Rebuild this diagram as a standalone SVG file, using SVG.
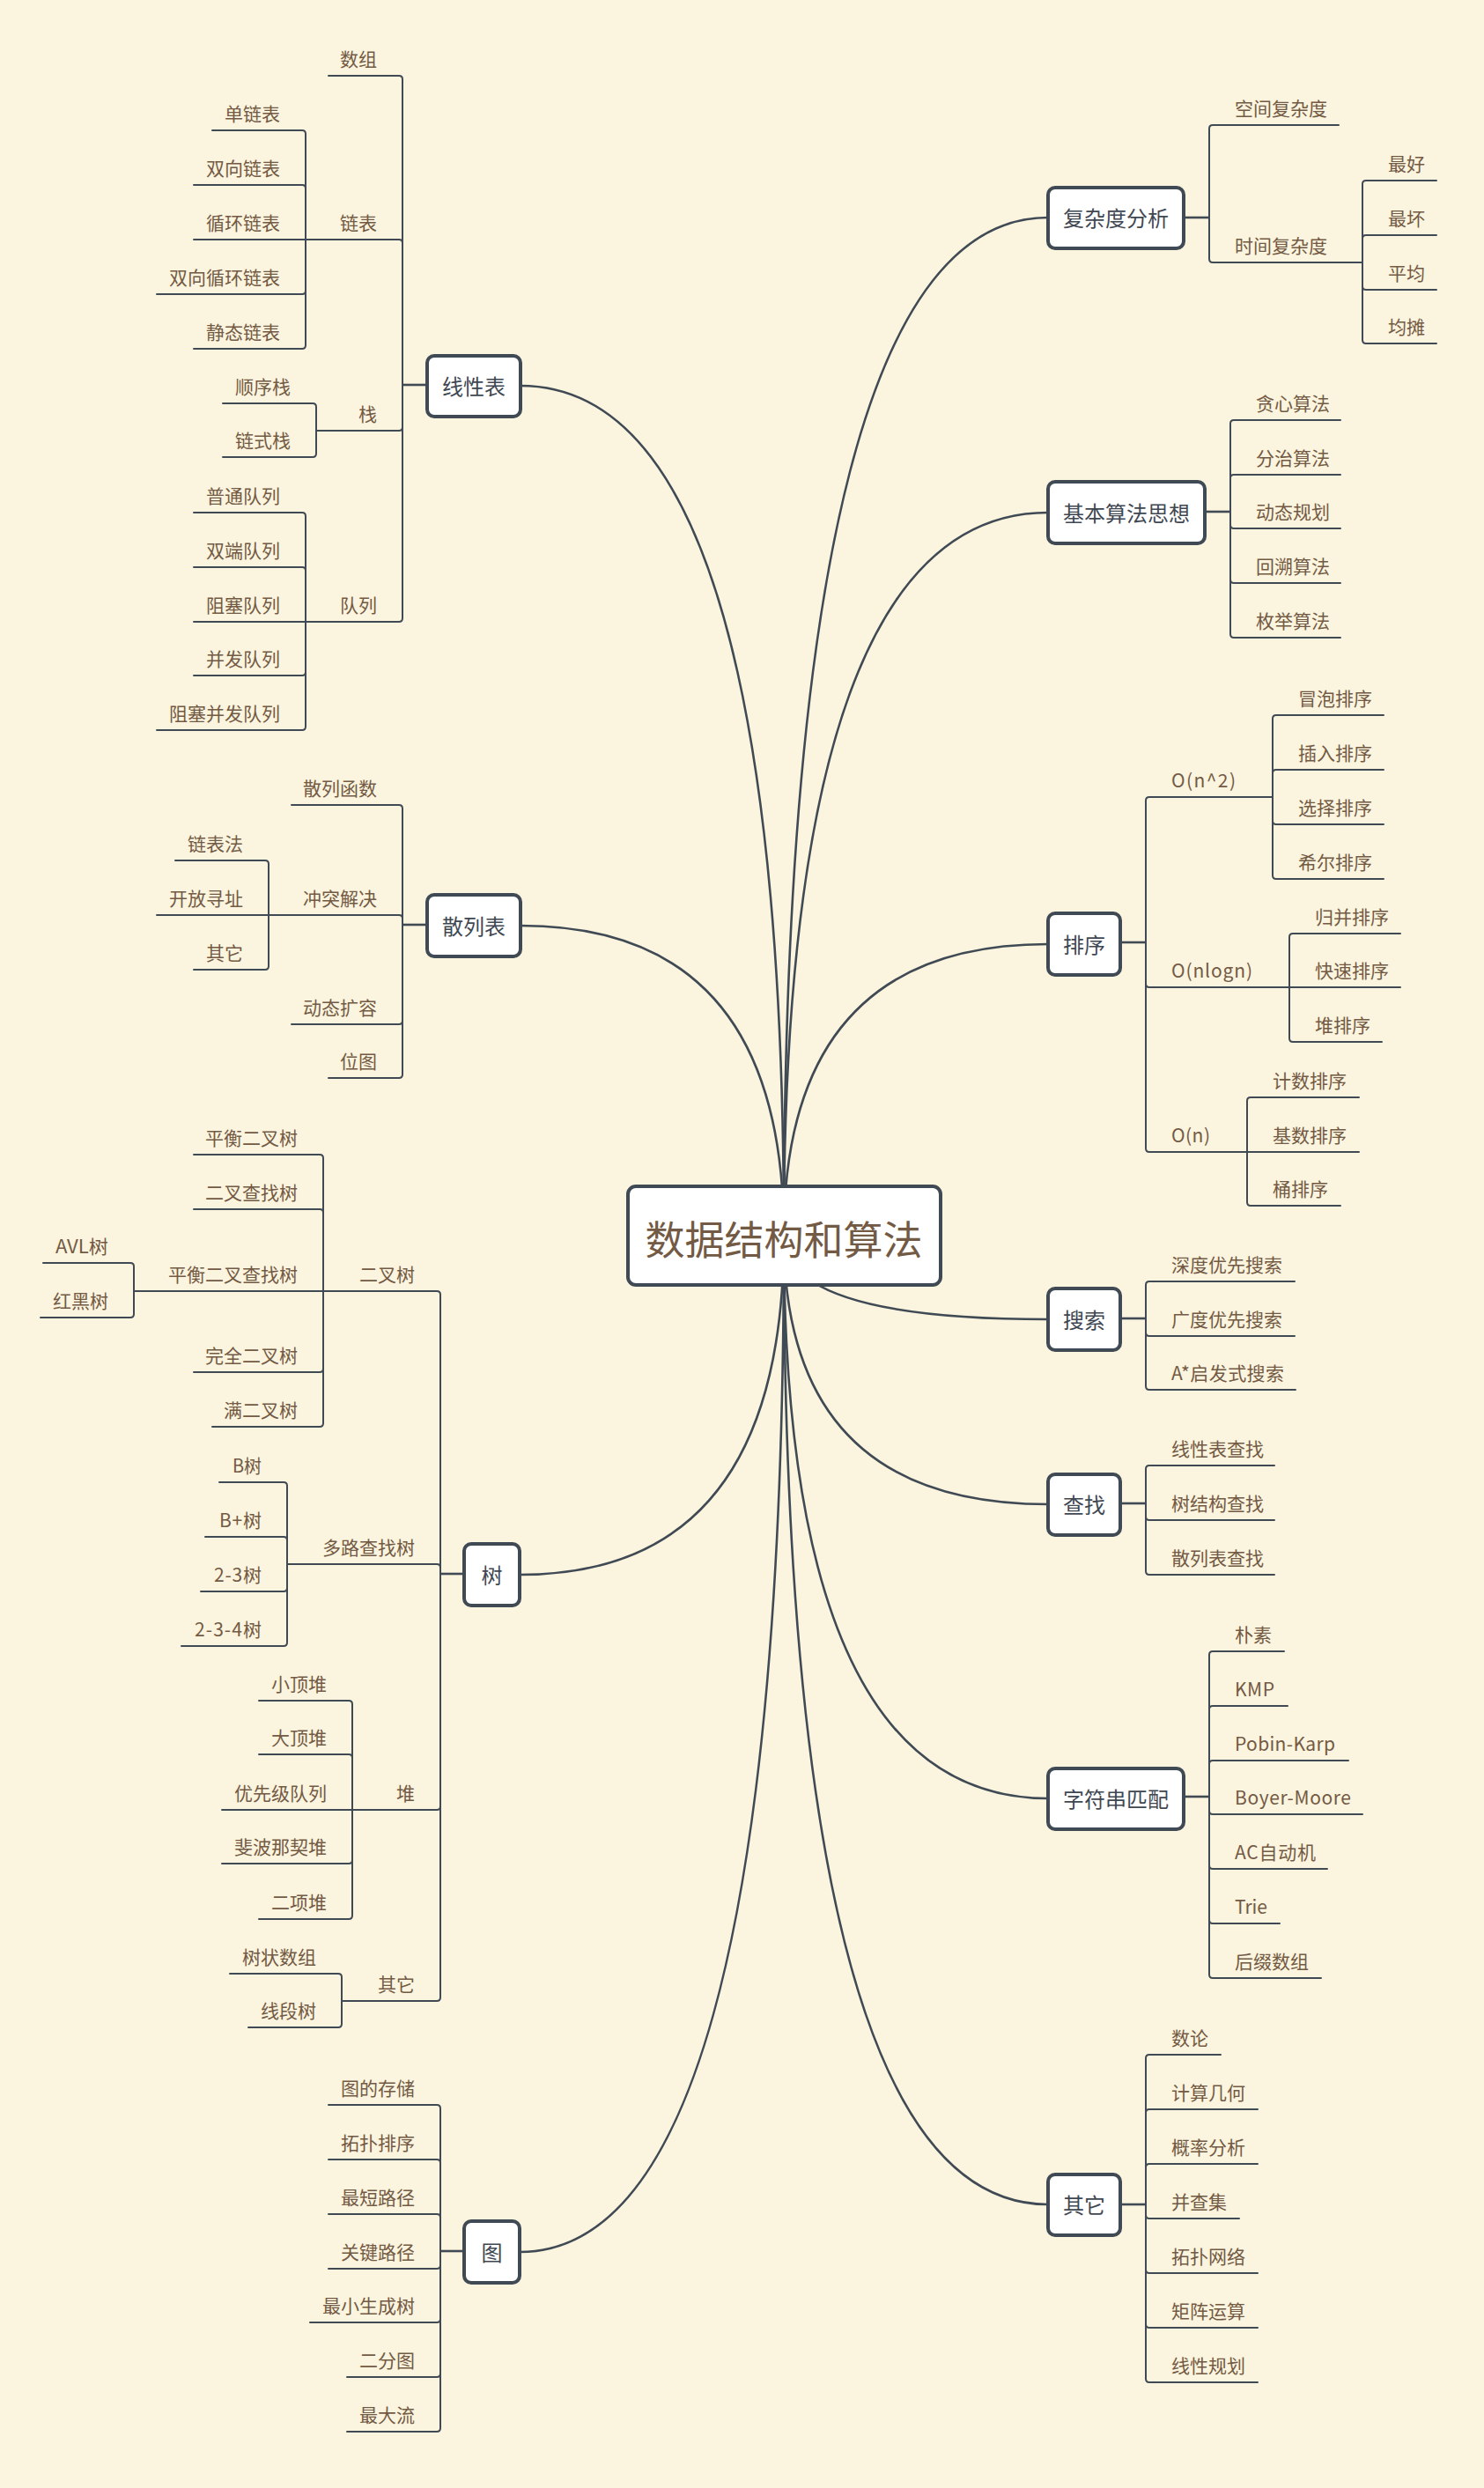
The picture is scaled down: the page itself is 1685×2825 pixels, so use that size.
<svg xmlns="http://www.w3.org/2000/svg" width="1685" height="2825" viewBox="0 0 1685 2825">
<style>
.c{fill:none;stroke:#404a54;stroke-width:2;stroke-linecap:round}
.m{fill:none;stroke:#404a54;stroke-width:2.6}
.t{font-family:"Noto Sans CJK SC","Noto Sans",sans-serif;font-size:21px;fill:#735a44}
.l{text-anchor:end}
.n rect{fill:#ffffff;stroke:#404a54;stroke-width:4}
.n text{font-family:"Noto Sans CJK SC","Noto Sans",sans-serif;font-size:24px;fill:#3f4852;text-anchor:middle}
</style>
<rect width="1685" height="2825" fill="#fbf4de"/>
<g id="connectors">
<g id="main-curves">
<path class="m" d="M890 1403Q890 438 591 438"/>
<path class="m" d="M890 1403Q890 1051 591 1051"/>
<path class="m" d="M890 1403Q890 1788 590 1788"/>
<path class="m" d="M890 1403Q890 2557 590 2557"/>
<path class="m" d="M890 1403Q890 247 1190 247"/>
<path class="m" d="M890 1403Q890 582 1190 582"/>
<path class="m" d="M890 1403Q890 1072 1190 1072"/>
<path class="m" d="M890 1403Q890 1498 1190 1498"/>
<path class="m" d="M890 1403Q890 1708 1190 1708"/>
<path class="m" d="M890 1403Q890 2042 1190 2042"/>
<path class="m" d="M890 1403Q890 2503 1190 2503"/>
</g>
<g id="branches">
<path class="m" d="M485 437H457"/>
<path class="c" d="M457 437V90Q457 86 453 86H373"/>
<path class="c" d="M457 437V276Q457 272 453 272H347"/>
<path class="c" d="M457 437V485Q457 489 453 489H359"/>
<path class="c" d="M457 437V702Q457 706 453 706H347"/>
<path class="c" d="M347 272V152Q347 148 343 148H241"/>
<path class="c" d="M347 272V214Q347 210 343 210H220"/>
<path class="c" d="M347 272H220"/>
<path class="c" d="M347 272V330Q347 334 343 334H178"/>
<path class="c" d="M347 272V392Q347 396 343 396H220"/>
<path class="c" d="M359 489V462Q359 458 355 458H253"/>
<path class="c" d="M359 489V515Q359 519 355 519H253"/>
<path class="c" d="M347 706V586Q347 582 343 582H220"/>
<path class="c" d="M347 706V648Q347 644 343 644H220"/>
<path class="c" d="M347 706H220"/>
<path class="c" d="M347 706V763Q347 767 343 767H220"/>
<path class="c" d="M347 706V825Q347 829 343 829H178"/>

<path class="m" d="M485 1050H457"/>
<path class="c" d="M457 1050V918Q457 914 453 914H331"/>
<path class="c" d="M457 1050V1043Q457 1039 453 1039H305"/>
<path class="c" d="M457 1050V1159Q457 1163 453 1163H331"/>
<path class="c" d="M457 1050V1220Q457 1224 453 1224H373"/>
<path class="c" d="M305 1039V981Q305 977 301 977H199"/>
<path class="c" d="M305 1039H178"/>
<path class="c" d="M305 1039V1097Q305 1101 301 1101H220"/>

<path class="m" d="M527 1787H500"/>
<path class="c" d="M500 1787V1470Q500 1466 496 1466H367"/>
<path class="c" d="M500 1787V1780Q500 1776 496 1776H326"/>
<path class="c" d="M500 1787V2051Q500 2055 496 2055H400"/>
<path class="c" d="M500 1787V2268Q500 2272 496 2272H388"/>
<path class="c" d="M367 1466V1315Q367 1311 363 1311H220"/>
<path class="c" d="M367 1466V1377Q367 1373 363 1373H220"/>
<path class="c" d="M367 1466H152"/>
<path class="c" d="M367 1466V1554Q367 1558 363 1558H220"/>
<path class="c" d="M367 1466V1616Q367 1620 363 1620H241"/>
<path class="c" d="M152 1466V1438Q152 1434 148 1434H49"/>
<path class="c" d="M152 1466V1492Q152 1496 148 1496H46"/>
<path class="c" d="M326 1776V1687Q326 1683 322 1683H249"/>
<path class="c" d="M326 1776V1749Q326 1745 322 1745H233"/>
<path class="c" d="M326 1776V1803Q326 1807 322 1807H228"/>
<path class="c" d="M326 1776V1865Q326 1869 322 1869H206"/>
<path class="c" d="M400 2055V1935Q400 1931 396 1931H294"/>
<path class="c" d="M400 2055V1996Q400 1992 396 1992H294"/>
<path class="c" d="M400 2055H252"/>
<path class="c" d="M400 2055V2112Q400 2116 396 2116H252"/>
<path class="c" d="M400 2055V2175Q400 2179 396 2179H294"/>
<path class="c" d="M388 2272V2245Q388 2241 384 2241H261"/>
<path class="c" d="M388 2272V2298Q388 2302 384 2302H282"/>

<path class="m" d="M527 2556H500"/>
<path class="c" d="M500 2556V2394Q500 2390 496 2390H373"/>
<path class="c" d="M500 2556V2456Q500 2452 496 2452H373"/>
<path class="c" d="M500 2556V2518Q500 2514 496 2514H373"/>
<path class="c" d="M500 2556V2572Q500 2576 496 2576H373"/>
<path class="c" d="M500 2556V2633Q500 2637 496 2637H352"/>
<path class="c" d="M500 2556V2695Q500 2699 496 2699H394"/>
<path class="c" d="M500 2556V2757Q500 2761 496 2761H394"/>

<path class="m" d="M1344 247H1373"/>
<path class="c" d="M1373 247V146Q1373 142 1377 142H1520"/>
<path class="c" d="M1373 247V294Q1373 298 1377 298H1547"/>
<path class="c" d="M1547 298V209Q1547 205 1551 205H1631"/>
<path class="c" d="M1547 298V271Q1547 267 1551 267H1631"/>
<path class="c" d="M1547 298V325Q1547 329 1551 329H1631"/>
<path class="c" d="M1547 298V386Q1547 390 1551 390H1631"/>

<path class="m" d="M1368 581H1397"/>
<path class="c" d="M1397 581V481Q1397 477 1401 477H1522"/>
<path class="c" d="M1397 581V543Q1397 539 1401 539H1522"/>
<path class="c" d="M1397 581V596Q1397 600 1401 600H1522"/>
<path class="c" d="M1397 581V658Q1397 662 1401 662H1522"/>
<path class="c" d="M1397 581V720Q1397 724 1401 724H1522"/>

<path class="m" d="M1272 1070H1301"/>
<path class="c" d="M1301 1070V909Q1301 905 1305 905H1445"/>
<path class="c" d="M1301 1070V1117Q1301 1121 1305 1121H1464"/>
<path class="c" d="M1301 1070V1304Q1301 1308 1305 1308H1416"/>
<path class="c" d="M1445 905V816Q1445 812 1449 812H1571"/>
<path class="c" d="M1445 905V878Q1445 874 1449 874H1571"/>
<path class="c" d="M1445 905V932Q1445 936 1449 936H1571"/>
<path class="c" d="M1445 905V994Q1445 998 1449 998H1571"/>
<path class="c" d="M1464 1121V1064Q1464 1060 1468 1060H1590"/>
<path class="c" d="M1464 1121H1590"/>
<path class="c" d="M1464 1121V1179Q1464 1183 1468 1183H1569"/>
<path class="c" d="M1416 1308V1250Q1416 1246 1420 1246H1543"/>
<path class="c" d="M1416 1308H1543"/>
<path class="c" d="M1416 1308V1365Q1416 1369 1420 1369H1522"/>

<path class="m" d="M1272 1497H1301"/>
<path class="c" d="M1301 1497V1459Q1301 1455 1305 1455H1470"/>
<path class="c" d="M1301 1497V1513Q1301 1517 1305 1517H1470"/>
<path class="c" d="M1301 1497V1574Q1301 1578 1305 1578H1471"/>

<path class="m" d="M1272 1707H1301"/>
<path class="c" d="M1301 1707V1668Q1301 1664 1305 1664H1447"/>
<path class="c" d="M1301 1707V1722Q1301 1726 1305 1726H1447"/>
<path class="c" d="M1301 1707V1784Q1301 1788 1305 1788H1447"/>

<path class="m" d="M1344 2040H1373"/>
<path class="c" d="M1373 2040V1879Q1373 1875 1377 1875H1458"/>
<path class="c" d="M1373 2040V1941Q1373 1937 1377 1937H1462"/>
<path class="c" d="M1373 2040V2003Q1373 1999 1377 1999H1531"/>
<path class="c" d="M1373 2040V2056Q1373 2060 1377 2060H1547"/>
<path class="c" d="M1373 2040V2118Q1373 2122 1377 2122H1507"/>
<path class="c" d="M1373 2040V2180Q1373 2184 1377 2184H1453"/>
<path class="c" d="M1373 2040V2242Q1373 2246 1377 2246H1500"/>

<path class="m" d="M1272 2503H1301"/>
<path class="c" d="M1301 2503V2337Q1301 2333 1305 2333H1386"/>
<path class="c" d="M1301 2503V2399Q1301 2395 1305 2395H1428"/>
<path class="c" d="M1301 2503V2461Q1301 2457 1305 2457H1428"/>
<path class="c" d="M1301 2503V2515Q1301 2519 1305 2519H1407"/>
<path class="c" d="M1301 2503V2577Q1301 2581 1305 2581H1428"/>
<path class="c" d="M1301 2503V2639Q1301 2643 1305 2643H1428"/>
<path class="c" d="M1301 2503V2701Q1301 2705 1305 2705H1428"/>
</g>
</g>

<g id="root" class="n">
<rect x="713" y="1347" width="355" height="112" rx="9"/>
<text x="890" y="1425" style="font-size:45px;fill:#735a44">数据结构和算法</text>
</g>

<g id="n-linear" class="n"><rect x="485" y="404" width="106" height="69" rx="8"/><text x="538" y="448">线性表</text></g>
<g id="n-hash" class="n"><rect x="485" y="1016" width="106" height="70" rx="8"/><text x="538" y="1061">散列表</text></g>
<g id="n-tree" class="n"><rect x="527" y="1753" width="63" height="70" rx="8"/><text x="558.5" y="1798">树</text></g>
<g id="n-graph" class="n"><rect x="527" y="2522" width="63" height="70" rx="8"/><text x="558.5" y="2567">图</text></g>
<g id="n-complexity" class="n"><rect x="1190" y="213" width="154" height="69" rx="8"/><text x="1267" y="257">复杂度分析</text></g>
<g id="n-algo" class="n"><rect x="1190" y="547" width="178" height="70" rx="8"/><text x="1279" y="592">基本算法思想</text></g>
<g id="n-sort" class="n"><rect x="1190" y="1037" width="82" height="70" rx="8"/><text x="1231" y="1082">排序</text></g>
<g id="n-search" class="n"><rect x="1190" y="1463" width="82" height="70" rx="8"/><text x="1231" y="1508">搜索</text></g>
<g id="n-find" class="n"><rect x="1190" y="1674" width="82" height="69" rx="8"/><text x="1231" y="1718">查找</text></g>
<g id="n-string" class="n"><rect x="1190" y="2008" width="154" height="69" rx="8"/><text x="1267" y="2052">字符串匹配</text></g>
<g id="n-other" class="n"><rect x="1190" y="2469" width="82" height="69" rx="8"/><text x="1231" y="2513">其它</text></g>

<g id="leaves-left" class="t l">
<g id="n-array"><text x="428" y="75">数组</text></g>
<g id="n-linkedlist"><text x="428" y="261">链表</text></g>
<g id="n-stack"><text x="428" y="478">栈</text></g>
<g id="n-queue"><text x="428" y="695">队列</text></g>
<g id="n-ll1"><text x="318" y="137">单链表</text></g>
<g id="n-ll2"><text x="318" y="199">双向链表</text></g>
<g id="n-ll3"><text x="318" y="261">循环链表</text></g>
<g id="n-ll4"><text x="318" y="323">双向循环链表</text></g>
<g id="n-ll5"><text x="318" y="385">静态链表</text></g>
<g id="n-st1"><text x="330" y="447">顺序栈</text></g>
<g id="n-st2"><text x="330" y="508">链式栈</text></g>
<g id="n-q1"><text x="318" y="571">普通队列</text></g>
<g id="n-q2"><text x="318" y="633">双端队列</text></g>
<g id="n-q3"><text x="318" y="695">阻塞队列</text></g>
<g id="n-q4"><text x="318" y="756">并发队列</text></g>
<g id="n-q5"><text x="318" y="818">阻塞并发队列</text></g>

<g id="n-h1"><text x="428" y="903">散列函数</text></g>
<g id="n-h2"><text x="428" y="1028">冲突解决</text></g>
<g id="n-h3"><text x="428" y="1152">动态扩容</text></g>
<g id="n-h4"><text x="428" y="1213">位图</text></g>
<g id="n-h21"><text x="276" y="966">链表法</text></g>
<g id="n-h22"><text x="276" y="1028">开放寻址</text></g>
<g id="n-h23"><text x="276" y="1090">其它</text></g>

<g id="n-t1"><text x="471" y="1455">二叉树</text></g>
<g id="n-t2"><text x="471" y="1765">多路查找树</text></g>
<g id="n-t3"><text x="471" y="2044">堆</text></g>
<g id="n-t4"><text x="471" y="2261">其它</text></g>
<g id="n-bt1"><text x="338" y="1300">平衡二叉树</text></g>
<g id="n-bt2"><text x="338" y="1362">二叉查找树</text></g>
<g id="n-bt3"><text x="338" y="1455">平衡二叉查找树</text></g>
<g id="n-bt4"><text x="338" y="1547">完全二叉树</text></g>
<g id="n-bt5"><text x="338" y="1609">满二叉树</text></g>
<g id="n-avl"><text x="123" y="1423" textLength="60" lengthAdjust="spacingAndGlyphs">AVL树</text></g>
<g id="n-rb"><text x="123" y="1485">红黑树</text></g>
<g id="n-mt1"><text x="297" y="1672" textLength="33" lengthAdjust="spacingAndGlyphs">B树</text></g>
<g id="n-mt2"><text x="297" y="1734" textLength="48" lengthAdjust="spacing">B+树</text></g>
<g id="n-mt3"><text x="297" y="1796" textLength="54" lengthAdjust="spacing">2-3树</text></g>
<g id="n-mt4"><text x="297" y="1858" textLength="76" lengthAdjust="spacing">2-3-4树</text></g>
<g id="n-hp1"><text x="371" y="1920">小顶堆</text></g>
<g id="n-hp2"><text x="371" y="1981">大顶堆</text></g>
<g id="n-hp3"><text x="371" y="2044">优先级队列</text></g>
<g id="n-hp4"><text x="371" y="2105">斐波那契堆</text></g>
<g id="n-hp5"><text x="371" y="2168">二项堆</text></g>
<g id="n-ot1"><text x="359" y="2230">树状数组</text></g>
<g id="n-ot2"><text x="359" y="2291">线段树</text></g>

<g id="n-g1"><text x="471" y="2379">图的存储</text></g>
<g id="n-g2"><text x="471" y="2441">拓扑排序</text></g>
<g id="n-g3"><text x="471" y="2503">最短路径</text></g>
<g id="n-g4"><text x="471" y="2565">关键路径</text></g>
<g id="n-g5"><text x="471" y="2626">最小生成树</text></g>
<g id="n-g6"><text x="471" y="2688">二分图</text></g>
<g id="n-g7"><text x="471" y="2750">最大流</text></g>
</g>

<g id="leaves-right" class="t">
<g id="n-c1"><text x="1402" y="131">空间复杂度</text></g>
<g id="n-c2"><text x="1402" y="287">时间复杂度</text></g>
<g id="n-c21"><text x="1576" y="194">最好</text></g>
<g id="n-c22"><text x="1576" y="256">最坏</text></g>
<g id="n-c23"><text x="1576" y="318">平均</text></g>
<g id="n-c24"><text x="1576" y="379">均摊</text></g>

<g id="n-a1"><text x="1426" y="466">贪心算法</text></g>
<g id="n-a2"><text x="1426" y="528">分治算法</text></g>
<g id="n-a3"><text x="1426" y="589">动态规划</text></g>
<g id="n-a4"><text x="1426" y="651">回溯算法</text></g>
<g id="n-a5"><text x="1426" y="713">枚举算法</text></g>

<g id="n-s1"><text x="1330" y="894" textLength="73" lengthAdjust="spacing">O(n^2)</text></g>
<g id="n-s2"><text x="1330" y="1110" textLength="92" lengthAdjust="spacing">O(nlogn)</text></g>
<g id="n-s3"><text x="1330" y="1297" textLength="44" lengthAdjust="spacing">O(n)</text></g>
<g id="n-s11"><text x="1474" y="801">冒泡排序</text></g>
<g id="n-s12"><text x="1474" y="863">插入排序</text></g>
<g id="n-s13"><text x="1474" y="925">选择排序</text></g>
<g id="n-s14"><text x="1474" y="987">希尔排序</text></g>
<g id="n-s21"><text x="1493" y="1049">归并排序</text></g>
<g id="n-s22"><text x="1493" y="1110">快速排序</text></g>
<g id="n-s23"><text x="1493" y="1172">堆排序</text></g>
<g id="n-s31"><text x="1445" y="1235">计数排序</text></g>
<g id="n-s32"><text x="1445" y="1297">基数排序</text></g>
<g id="n-s33"><text x="1445" y="1358">桶排序</text></g>

<g id="n-se1"><text x="1330" y="1444">深度优先搜索</text></g>
<g id="n-se2"><text x="1330" y="1506">广度优先搜索</text></g>
<g id="n-se3"><text x="1330" y="1567" textLength="128" lengthAdjust="spacing">A*启发式搜索</text></g>

<g id="n-f1"><text x="1330" y="1653">线性表查找</text></g>
<g id="n-f2"><text x="1330" y="1715">树结构查找</text></g>
<g id="n-f3"><text x="1330" y="1777">散列表查找</text></g>

<g id="n-m1"><text x="1402" y="1864">朴素</text></g>
<g id="n-m2"><text x="1402" y="1926" textLength="45" lengthAdjust="spacing">KMP</text></g>
<g id="n-m3"><text x="1402" y="1988" textLength="114" lengthAdjust="spacing">Pobin-Karp</text></g>
<g id="n-m4"><text x="1402" y="2049" textLength="132" lengthAdjust="spacing">Boyer-Moore</text></g>
<g id="n-m5"><text x="1402" y="2111" textLength="92" lengthAdjust="spacing">AC自动机</text></g>
<g id="n-m6"><text x="1402" y="2173" textLength="37" lengthAdjust="spacing">Trie</text></g>
<g id="n-m7"><text x="1402" y="2235">后缀数组</text></g>

<g id="n-o1"><text x="1330" y="2322">数论</text></g>
<g id="n-o2"><text x="1330" y="2384">计算几何</text></g>
<g id="n-o3"><text x="1330" y="2446">概率分析</text></g>
<g id="n-o4"><text x="1330" y="2508">并查集</text></g>
<g id="n-o5"><text x="1330" y="2570">拓扑网络</text></g>
<g id="n-o6"><text x="1330" y="2632">矩阵运算</text></g>
<g id="n-o7"><text x="1330" y="2694">线性规划</text></g>
</g>
</svg>
